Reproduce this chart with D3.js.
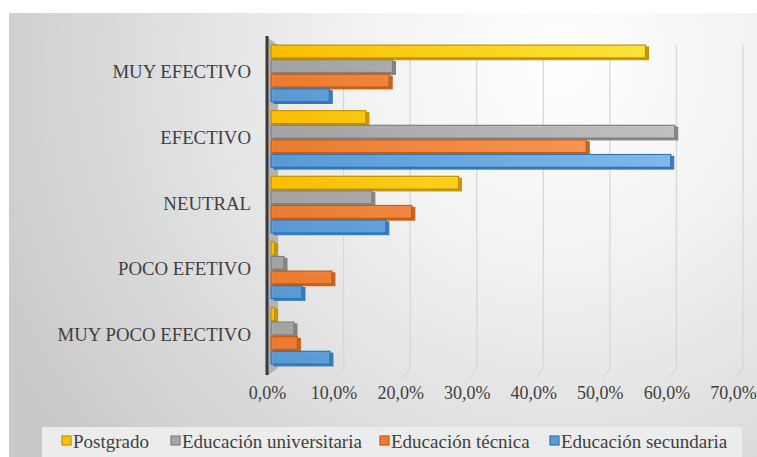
<!DOCTYPE html>
<html><head><meta charset="utf-8">
<script src="https://cdn.jsdelivr.net/npm/d3@7"></script>
<style>html,body{margin:0;padding:0;background:#fff;}svg{display:block;}</style>
</head><body>
<script>
const categories = ["MUY EFECTIVO","EFECTIVO","NEUTRAL","POCO EFETIVO","MUY POCO EFECTIVO"];
const seriesNames = ["Postgrado","Educación universitaria","Educación técnica","Educación secundaria"];
const postgrado    = [56.4, 14.4, 28.3, 0.7, 0.7];
const universitaria= [18.4, 60.8, 15.3, 2.1, 3.6];
const tecnica      = [17.9, 47.5, 21.3, 9.3, 4.1];
const secundaria   = [8.9, 60.2, 17.4, 4.8, 9.0];
const tickValues = [0,10,20,30,40,50,60,70];
const tickLabels = ["0,0%","10,0%","20,0%","30,0%","40,0%","50,0%","60,0%","70,0%"];

const seriesValues = [postgrado, universitaria, tecnica, secundaria];
const colors = [
  {base:"#FFC000", light:"#FFEE40", edge:"#BF9000", side:"#C99700"},
  {base:"#A5A5A5", light:"#C4C4C4", edge:"#7F7F7F", side:"#858585"},
  {base:"#ED7D31", light:"#FFA060", edge:"#C55A11", side:"#C9631F"},
  {base:"#5B9BD5", light:"#86BDF0", edge:"#2E75B6", side:"#3A7DBF"}
];
const FONT = "'Liberation Serif', 'Times New Roman', serif";

const W = 757, H = 457;
const svg = d3.select("body").append("svg").attr("width", W).attr("height", H);
const defs = svg.append("defs");

const bg = defs.append("radialGradient").attr("id","bg")
  .attr("gradientUnits","userSpaceOnUse").attr("cx",560).attr("cy",60).attr("r",620);
bg.append("stop").attr("offset","0%").attr("stop-color","#ffffff");
bg.append("stop").attr("offset","35%").attr("stop-color","#f1f1f1");
bg.append("stop").attr("offset","100%").attr("stop-color","#c9c9c9");

const x = d3.scaleLinear().domain([0,70]).range([270, 736]);
const y = d3.scaleBand().domain(categories).range([41, 369]).paddingInner(0.11).paddingOuter(0.055);
const ys = d3.scaleBand().domain(seriesNames).range([0, y.bandwidth()]).padding(0);

colors.forEach((c,i)=>{
  const g = defs.append("linearGradient").attr("id","g"+i)
    .attr("gradientUnits","userSpaceOnUse").attr("x1",x(0)).attr("x2",x(60)).attr("y1",0).attr("y2",0);
  g.append("stop").attr("offset","0%").attr("stop-color",c.base);
  g.append("stop").attr("offset","100%").attr("stop-color",c.light);
});

svg.append("rect").attr("x",9).attr("y",13).attr("width",W-9).attr("height",H-13).attr("fill","url(#bg)");

// gridlines (back wall + floor)
const grid = svg.append("g");
tickValues.slice(1).forEach(v=>{
  const xb = x(v)+7, xf = x(v);
  grid.append("path")
    .attr("d", `M${xb},45 L${xb},368 L${xf},378`)
    .attr("fill","none").attr("stroke","#d6d6d6").attr("stroke-width",1.2);
});

// left wall
svg.append("path").attr("d","M267,37 L278,45 L278,368 L267,376 Z").attr("fill","#b3b3b3");
svg.append("line").attr("x1",267).attr("x2",267).attr("y1",36).attr("y2",375)
  .attr("stroke","#3a3a3a").attr("stroke-width",3);

// bars
const d = 3;
categories.forEach((cat,ci)=>{
  seriesNames.forEach((s,si)=>{
    const v = seriesValues[si][ci];
    const c = colors[si];
    const y0 = y(cat)+ys(s)+0.5, h = ys.bandwidth()-1.8;
    const x0 = x(0)+1, x1 = x(v);
    const w = Math.max(x1-x0, 1.5);
    svg.append("rect").attr("x",x0+d).attr("y",y0+d*0.6).attr("width",w).attr("height",h)
      .attr("fill",c.side).attr("stroke",c.edge).attr("stroke-width",1);
    svg.append("rect").attr("x",x0).attr("y",y0).attr("width",w).attr("height",h)
      .attr("fill","url(#g"+si+")").attr("fill-opacity",0.92)
      .attr("stroke",c.edge).attr("stroke-width",1.2);
  });
});

// category labels
svg.append("g").selectAll("text").data(categories).join("text")
  .attr("x",251).attr("y",c=>y(c)+y.bandwidth()/2-2).attr("dy","0.35em")
  .attr("text-anchor","end").style("font-family",FONT)
  .attr("font-size",18.8).attr("fill","#404040").text(c=>c);

// tick labels
svg.append("g").selectAll("text").data(tickValues).join("text")
  .attr("x",v=>x(v)-2.5).attr("y",399)
  .attr("text-anchor","middle").style("font-family",FONT)
  .attr("font-size",18).attr("fill","#404040").text((v,i)=>tickLabels[i]);

// legend
svg.append("rect").attr("x",42).attr("y",427).attr("width",700).attr("height",32).attr("fill","#ececec");
const legX = [62, 171, 380, 550];
const leg = svg.append("g");
seriesNames.forEach((s,i)=>{
  leg.append("rect").attr("x",legX[i]).attr("y",436).attr("width",9).attr("height",9)
    .attr("fill",colors[i].base).attr("stroke",colors[i].edge).attr("stroke-width",1.2);
  leg.append("text").attr("x",legX[i]+11).attr("y",448)
    .style("font-family",FONT).attr("font-size",19)
    .attr("fill","#404040").text(s);
});
</script>
</body></html>
